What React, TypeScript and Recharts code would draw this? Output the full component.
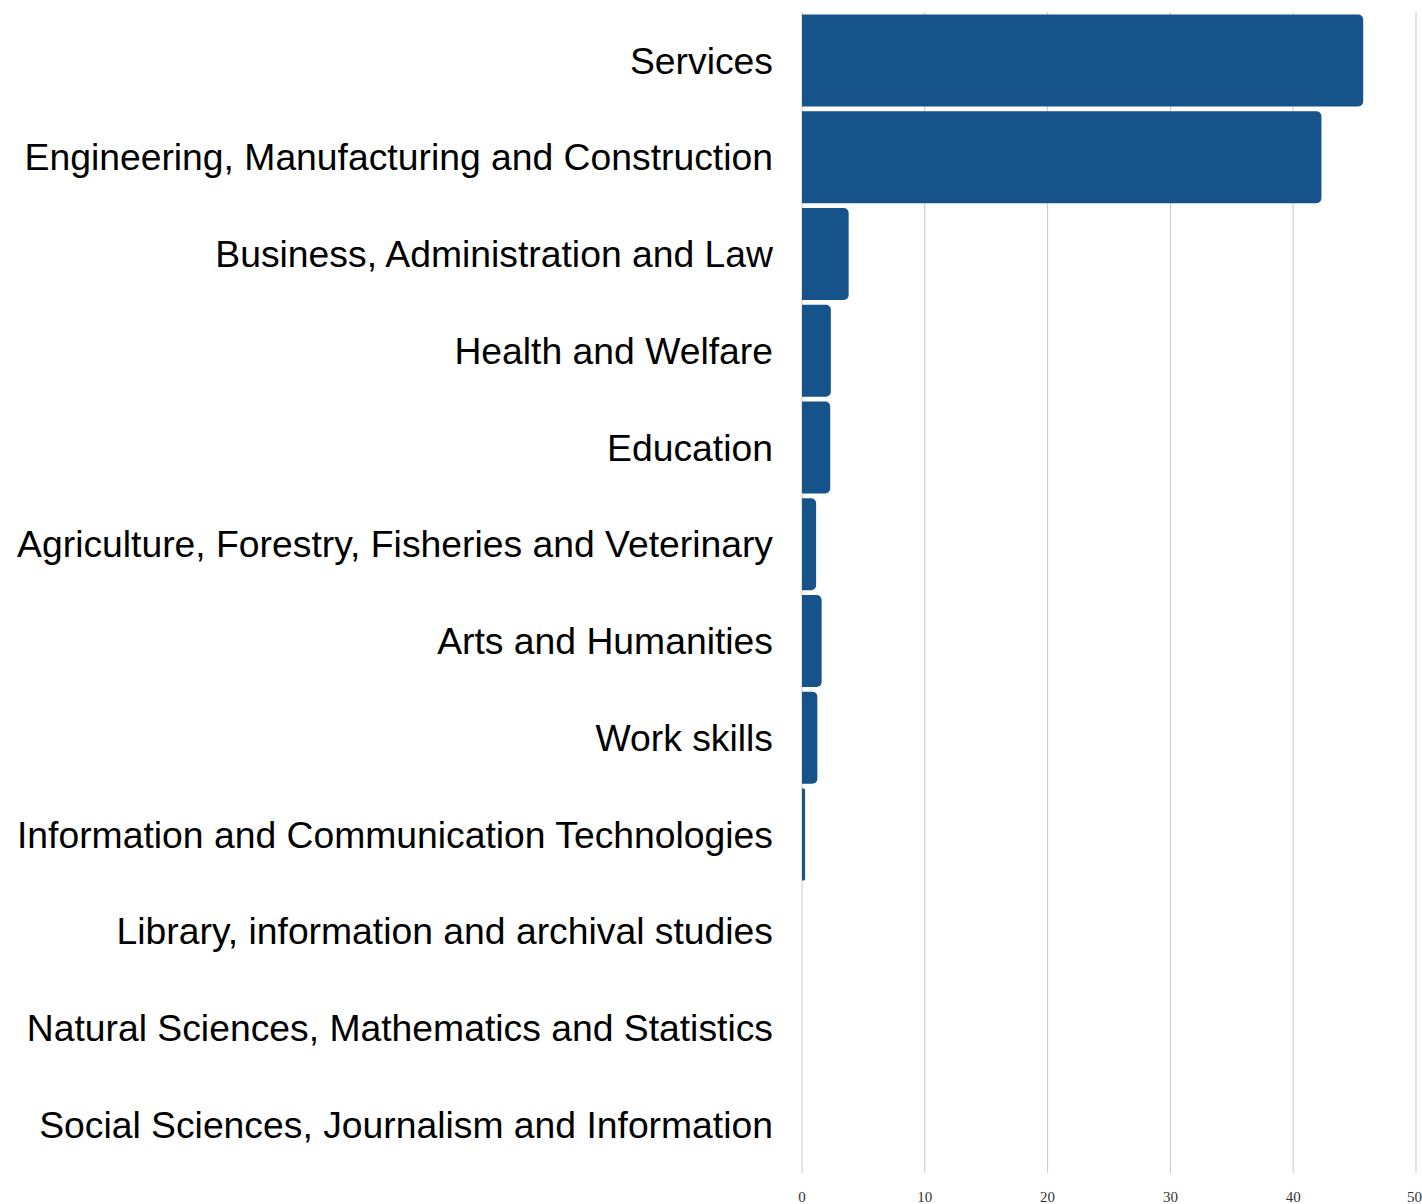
import { BarChart, Bar, XAxis, YAxis, CartesianGrid } from "recharts";

const fields = [
  "Services",
  "Engineering, Manufacturing and Construction",
  "Business, Administration and Law",
  "Health and Welfare",
  "Education",
  "Agriculture, Forestry, Fisheries and Veterinary",
  "Arts and Humanities",
  "Work skills",
  "Information and Communication Technologies",
  "Library, information and archival studies",
  "Natural Sciences, Mathematics and Statistics",
  "Social Sciences, Journalism and Information",
];

const shares = [45.7, 42.3, 3.8, 2.35, 2.3, 1.15, 1.6, 1.25, 0.25, 0, 0, 0];

const xTicks = [0, 10, 20, 30, 40, 50];

const data = fields.map((field, i) => ({ field, share: shares[i] }));

export default function App() {
  return (
    <div style={{ width: 1422, height: 1204 }}>
      <style>{`body{margin:0}`}</style>
      <BarChart
        width={1422}
        height={1204}
        data={data}
        layout="vertical"
        margin={{ top: 12, right: 6, bottom: 0, left: 0 }}
        barCategoryGap="2.6%"
      >
        <CartesianGrid horizontal={false} stroke="#c8c8c8" />
        <XAxis
          type="number"
          domain={[0, 50]}
          ticks={xTicks}
          axisLine={false}
          tickLine={false}
          tickSize={0}
          tickMargin={18}
          height={31}
          tick={{ fontFamily: "Liberation Serif", fontSize: 15, fill: "#333" }}
        />
        <YAxis
          type="category"
          dataKey="field"
          width={802}
          axisLine={false}
          tickLine={false}
          tickSize={0}
          tickMargin={29}
          interval={0}
          tick={{ fontFamily: "Liberation Sans, Arial", fontSize: 37.3, fill: "#000" }}
        />
        <Bar
          dataKey="share"
          fill="#15538a"
          radius={[0, 5, 5, 0]}
          isAnimationActive={false}
        />
      </BarChart>
    </div>
  );
}
